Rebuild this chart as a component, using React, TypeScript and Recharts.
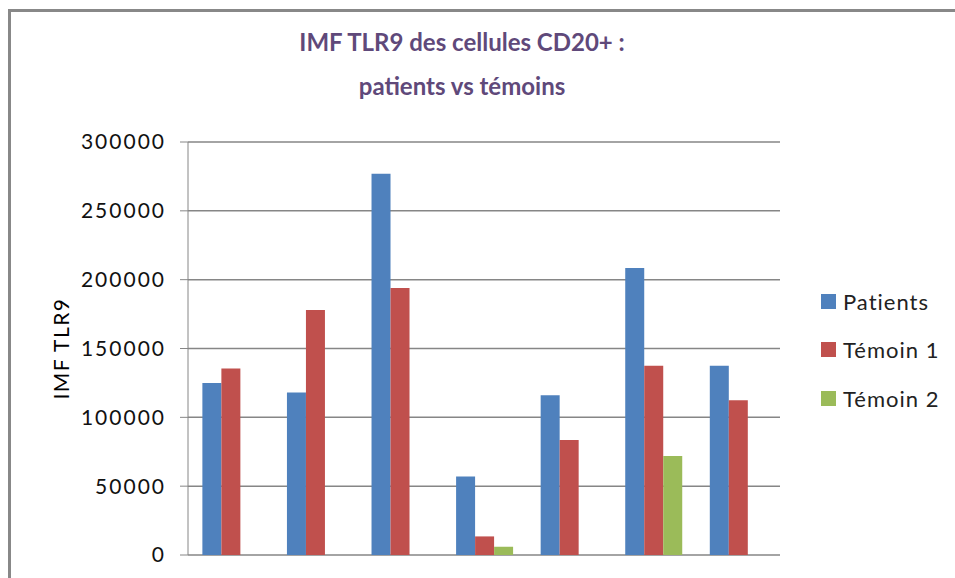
import React from "react";
import { BarChart, Bar, XAxis, YAxis, CartesianGrid } from "recharts";

const categories = ["1", "2", "3", "4", "5", "6", "7"];
const patients = [125000, 118000, 277000, 57000, 116000, 208500, 137500];
const temoin1 = [135500, 178000, 194000, 13500, 83500, 137500, 112500];
const temoin2 = [null, null, null, 6000, null, 72000, null];
const yTicks = [0, 50000, 100000, 150000, 200000, 250000, 300000];

const series = [
  { key: "patients", name: "Patients", color: "#4F81BD" },
  { key: "temoin1", name: "Témoin 1", color: "#C0504D" },
  { key: "temoin2", name: "Témoin 2", color: "#9BBB59" },
];

const data = categories.map((c, i) => ({
  name: c,
  patients: patients[i],
  temoin1: temoin1[i],
  temoin2: temoin2[i],
}));

const font = "Lato, 'Open Sans', sans-serif";

export default function App() {
  return (
    <div
      style={{
        position: "absolute",
        left: 0,
        top: 0,
        width: 955,
        height: 578,
        background: "#fff",
        overflow: "hidden",
      }}
    >
      <div
        style={{
          position: "absolute",
          left: 8,
          top: 9,
          width: 960,
          height: 600,
          borderLeft: "3px solid #888",
          borderTop: "3px solid #888",
        }}
      />
      <div
        style={{
          position: "absolute",
          left: 0,
          width: 924,
          top: 20,
          textAlign: "center",
          fontFamily: font,
          fontWeight: "bold",
          fontSize: 24,
          lineHeight: "44px",
          color: "#5F497A",
        }}
      >
        <div>IMF TLR9 des cellules CD20+ :</div>
        <div>patients vs témoins</div>
      </div>
      <BarChart
        width={955}
        height={578}
        data={data}
        margin={{ top: 142, right: 175, left: 0, bottom: 23 }}
        barCategoryGap="17%"
        barGap={0}
        style={{ position: "absolute", left: 0, top: 0 }}
      >
        <CartesianGrid vertical={false} stroke="#868686" strokeWidth={1.5} />
        <XAxis dataKey="name" hide />
        <YAxis
          width={188}
          domain={[0, 300000]}
          ticks={yTicks}
          interval={0}
          stroke="#868686"
          tickSize={8}
          tickMargin={14}
          tick={{ fontSize: 21, fill: "#111", fontFamily: font, letterSpacing: 2 }}
          label={{
            value: "IMF TLR9",
            angle: -90,
            position: "insideLeft",
            offset: 62,
            style: {
              fontSize: 21,
              fill: "#000",
              fontFamily: font,
              letterSpacing: 1.5,
              textAnchor: "middle",
            },
          }}
        />
        {series.map((s) => (
          <Bar
            key={s.key}
            dataKey={s.key}
            name={s.name}
            fill={s.color}
            isAnimationActive={false}
          />
        ))}
      </BarChart>
      <div
        style={{
          position: "absolute",
          left: 821,
          top: 277,
          fontFamily: font,
        }}
      >
        {series.map((s) => (
          <div
            key={s.key}
            style={{ display: "flex", alignItems: "center", height: 48.5 }}
          >
            <div
              style={{
                width: 15,
                height: 15,
                background: s.color,
                marginRight: 7,
              }}
            />
            <span style={{ fontSize: 22, color: "#222", letterSpacing: 1 }}>
              {s.name}
            </span>
          </div>
        ))}
      </div>
    </div>
  );
}
